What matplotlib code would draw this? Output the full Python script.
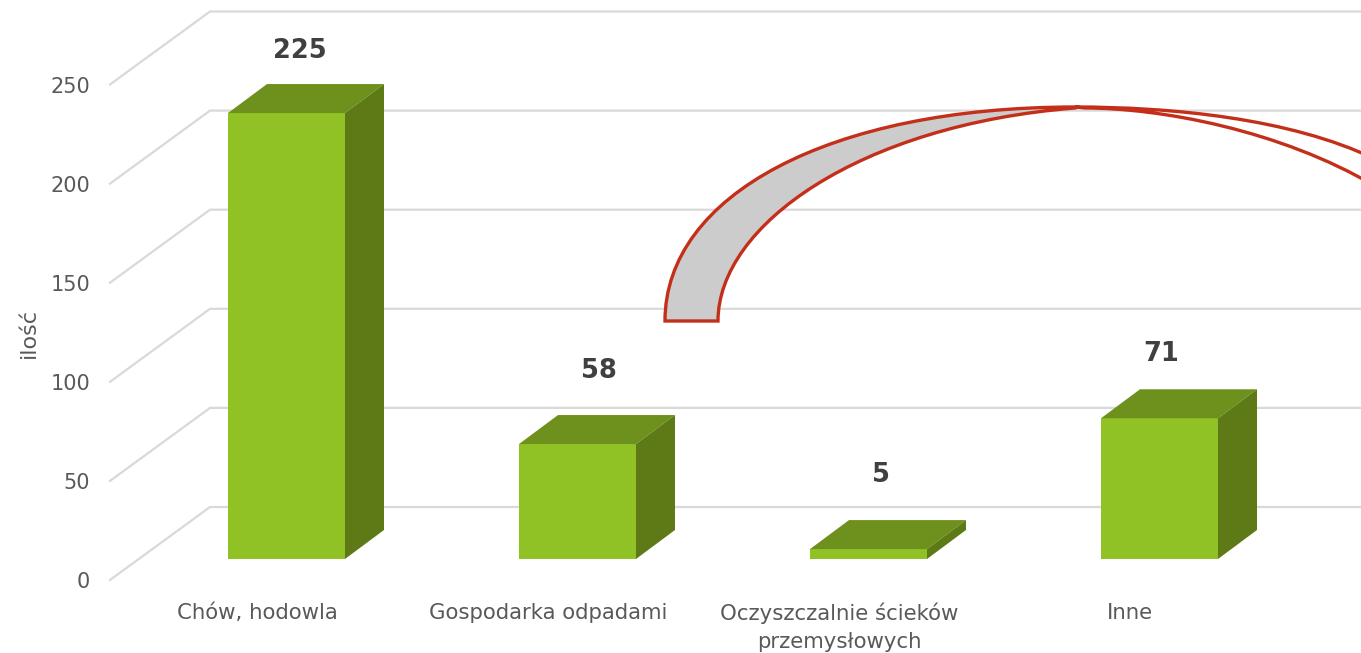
import numpy as np
import matplotlib
matplotlib.use("Agg")
import matplotlib.pyplot as plt
from matplotlib.patches import PathPatch, Polygon
from matplotlib.path import Path

categories = ["Chów, hodowla", "Gospodarka odpadami",
              "Oczyszczalnie ścieków\nprzemysłowych", "Inne"]
values = [225, 58, 5, 71]
y_ticks = [0, 50, 100, 150, 200, 250]

W, H = 1361, 653
# pixel layout of the fake 3d chart
X0, X_STEP = 286.5, 291.0
Y0, Y_SCALE = 559.0, 1.982
label_x = [300, 599, 881, 1161]
label_y = [51, 371, 475, 354]


def px_x(x):
    return (x - X0) / X_STEP


def px_y(y):
    return (Y0 - y) / Y_SCALE


def shape(points):
    # closed shape: cubic curve, straight join, cubic curve back
    pts = [(px_x(a), px_y(b)) for a, b in points]
    codes = [Path.MOVETO] + [Path.CURVE4] * 3 + [Path.LINETO] + [Path.CURVE4] * 3 + [Path.CLOSEPOLY]
    return Path(pts + [pts[0]], codes)


plt.rcParams['font.family'] = ['DejaVu Sans']
fig = plt.figure(figsize=(W / 100, H / 100), dpi=100)
ax = fig.add_axes([0, 0, 1, 1])
ax.set_xlim(px_x(0), px_x(W))
ax.set_ylim(px_y(H), px_y(0))
ax.axis("off")

bar_w = 117 / X_STEP
dx = 39 / X_STEP
dy = 29 / Y_SCALE

# walls: value v sits 21 px below the bar plane at the front, 52 px above at the back
front = px_x(110)
back = px_x(210)
front_dy = 21 / Y_SCALE
back_dy = 52 / Y_SCALE
for v in y_ticks:
    ax.plot([front, back, px_x(W)], [v - front_dy, v + back_dy, v + back_dy],
            color="#d9d9d9", lw=1.6, zorder=1, solid_joinstyle="miter")
    ax.text(px_x(90), v - front_dy - 2.5 / Y_SCALE, str(v), ha="right", va="center",
            fontsize=15, color="#595959")

ax.text(px_x(29), px_y(333), "ilość", rotation=90, ha="center", va="center",
        fontsize=16, color="#595959")

for i, (name, v) in enumerate(zip(categories, values)):
    l, r = i - bar_w / 2, i + bar_w / 2
    ax.bar(i, v, width=bar_w, color="#90c226", zorder=3)
    ax.add_patch(Polygon([(l, v), (r, v), (r + dx, v + dy), (l + dx, v + dy)],
                         color="#6e901d", lw=0, zorder=3))
    ax.add_patch(Polygon([(r, 0), (r + dx, dy), (r + dx, v + dy), (r, v)],
                         color="#5d7a17", lw=0, zorder=3))
    ax.text(px_x(label_x[i]), px_y(label_y[i]), str(v), ha="center", va="center",
            fontsize=18.5, fontweight="bold", color="#404040", zorder=4)
    ax.text(i - 0.1, px_y(603), name, ha="center", va="top", fontsize=15.3,
            color="#595959", linespacing=1.45)

# curved arrow that runs off the right edge: grey front, white back
front_part = [(665, 321), (665, 195), (830, 107), (1075, 107),
              (1075, 108), (860, 125), (718, 225), (718, 321)]
back_part = [(1075, 107), (1170, 107), (1290, 118), (1375, 159),
             (1375, 186), (1280, 130), (1160, 108), (1085, 108)]
ax.add_patch(PathPatch(shape(back_part), facecolor="white", edgecolor="#c42f1a",
                       lw=2.4, zorder=5, joinstyle="miter"))
ax.add_patch(PathPatch(shape(front_part), facecolor="#cccccc", edgecolor="#c42f1a",
                       lw=2.4, zorder=5, joinstyle="miter"))

fig.savefig("out.png", dpi=100)
